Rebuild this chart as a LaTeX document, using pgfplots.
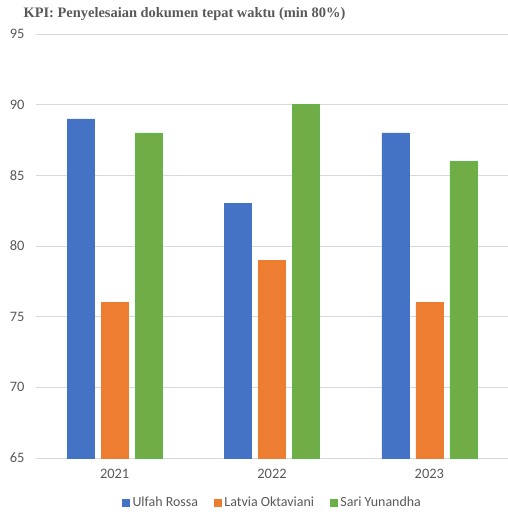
\documentclass[border=0pt]{standalone}
\usepackage{pgfplots}
\pgfplotsset{compat=1.18}
\usepackage{fontspec}
\setmainfont{Carlito}
\newfontfamily\titlefont{Liberation Serif}
\definecolor{cblue}{HTML}{4472C4}
\definecolor{corange}{HTML}{ED7D31}
\definecolor{cgreen}{HTML}{70AD47}
\definecolor{cgreenb}{HTML}{5CB848}
\definecolor{tickc}{HTML}{595959}
\definecolor{gridc}{HTML}{D9D9D9}
\begin{document}
\begin{tikzpicture}
\path[use as bounding box] (-36bp,-54bp) rectangle (472bp,458bp);
\begin{axis}[
  at={(0,0)}, anchor=south west,
  scale only axis, width=472bp, height=424bp,
  ybar=7bp, bar width=27bp,
  xmin=-0.5, xmax=2.5, ymin=65, ymax=95,
  xtick=data, xticklabels={2021,2022,2023},
  ytick={65,70,...,95},
  ymajorgrids, grid style={gridc, line width=0.8pt},
  axis x line*=bottom, axis y line*=left,
  x axis line style={draw=gridc, line width=0.8pt, -},
  y axis line style={draw=none},
  major tick length=0pt,
  ticklabel style={font=\fontsize{14.5}{16}\selectfont, text=tickc},
  yticklabel style={xshift=-8bp},
  xticklabel style={yshift=-8bp},
  /pgf/number format/assume math mode=true,
  legend style={at={(0.5,-0.105)}, anchor=center, draw=none, legend columns=3,
    font=\fontsize{14}{16}\selectfont, text=tickc,
    nodes={inner sep=1bp},
    /tikz/every even column/.append style={column sep=15bp},
    /tikz/every odd column/.append style={column sep=2bp}},
  legend image code/.code={\draw[#1] (0bp,-3.5bp) rectangle (7bp,3.5bp);},
  clip=false,
]
\addplot+[draw=cblue, fill=cblue] coordinates {(0,89) (1,83) (2,88)};
\addplot+[draw=corange, fill=corange] coordinates {(0,76) (1,79) (2,76)};
\addplot+[draw=cgreenb, fill=cgreen] coordinates {(0,88) (1,90) (2,86)};
\legend{Ulfah Rossa, Latvia Oktaviani, Sari Yunandha}
\node[anchor=base west, font=\titlefont\bfseries\fontsize{14.5}{16}\selectfont, text=tickc]
  at (rel axis cs:0,1) [xshift=-16bp, yshift=16bp] {KPI: Penyelesaian dokumen tepat waktu (min 80\%)};
\end{axis}
\end{tikzpicture}
\end{document}
